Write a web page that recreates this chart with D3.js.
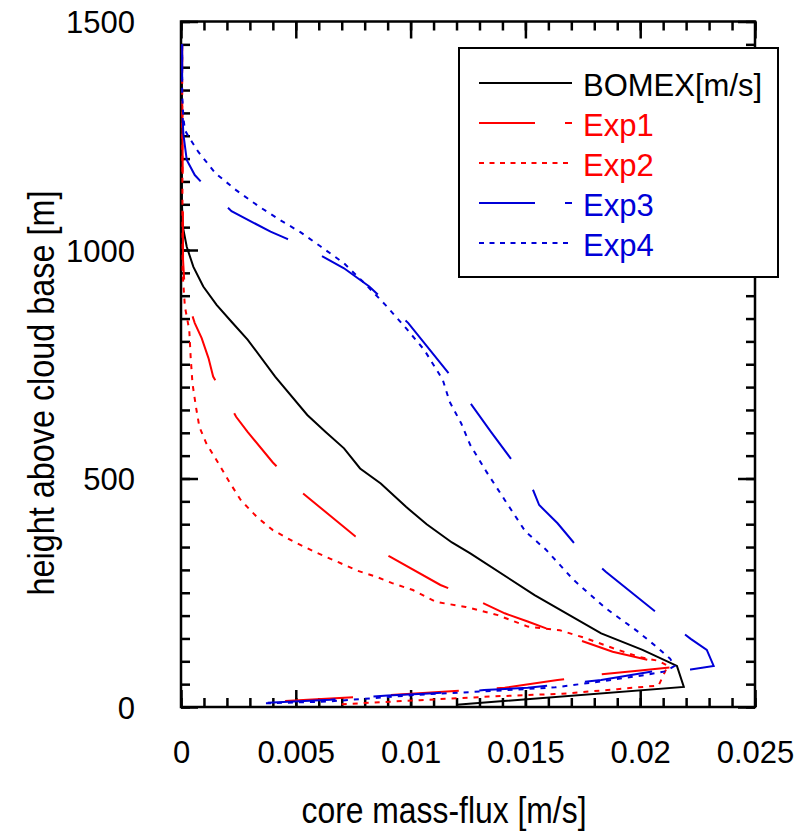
<!DOCTYPE html>
<html>
<head>
<meta charset="utf-8">
<script src="https://cdn.jsdelivr.net/npm/d3@7"></script>
<style>
body { margin: 0; background: #fff; }
text { font-family: "Liberation Sans", Arial, sans-serif; }
</style>
</head>
<body>
<script>
// core mass-flux [m/s] vs height above cloud base [m]
var bomexFlux = [0.0120, 0.0219, 0.0216, 0.0201, 0.0183, 0.0154, 0.0126, 0.0118, 0.0107, 0.0098, 0.0087, 0.0078, 0.0071, 0.0063, 0.0055, 0.0041, 0.0029, 0.0022, 0.00155, 0.00097, 0.00054, 0.00025, 0.00008, 0.00004, 0.00004];
var bomexZ    = [5, 44, 90, 125, 161, 245, 336, 360, 400, 438, 489, 522, 566, 602, 639, 723, 804, 843, 880, 920, 963, 1007, 1051, 1102, 1450];

var exp1Flux = [0.0031, 0.0088, 0.0141, 0.0164, 0.0180, 0.0200, 0.0216, 0.0188, 0.0164, 0.0151, 0.0141, 0.0127, 0.0113, 0.0091, 0.0076, 0.0053, 0.0040, 0.0029, 0.0024, 0.0022, 0.0014, 0.0012, 0.0009, 0.0006, 0.00017, 0.00009, 0.00005];
var exp1Z    = [9, 25, 42, 59, 70, 80, 88, 121, 163, 187, 205, 238, 267, 329, 373, 468, 535, 602, 635, 654, 723, 763, 807, 840, 906, 978, 1450];

var exp2Flux = [0.0070, 0.0104, 0.0135, 0.0166, 0.0190, 0.0208, 0.0212, 0.0208, 0.0200, 0.0188, 0.0176, 0.0165, 0.0151, 0.0138, 0.0124, 0.0111, 0.0101, 0.0092, 0.0085, 0.0077, 0.0068, 0.0058, 0.0049, 0.0040, 0.0033, 0.0026, 0.0021, 0.00155, 0.0011, 0.0008, 0.00065, 0.0005, 0.00042, 0.00036, 0.00017, 0.00007, 0.00005];
var exp2Z    = [6, 15, 23, 29, 39, 47, 90, 101, 109, 129, 151, 168, 176, 201, 219, 230, 256, 271, 285, 298, 318, 340, 362, 387, 416, 453, 493, 540, 577, 613, 657, 708, 766, 825, 876, 950, 1450];

var exp3Flux = [0.0036, 0.0065, 0.0090, 0.0110, 0.0132, 0.0151, 0.0183, 0.0207, 0.0222, 0.0232, 0.0229, 0.0222, 0.0206, 0.0185, 0.0171, 0.0164, 0.0156, 0.0153, 0.0143, 0.0135, 0.0126, 0.0116, 0.0099, 0.0082, 0.0071, 0.0059, 0.0046, 0.0039, 0.0022, 0.00097, 0.0006, 0.00025, 0.0001, 0.00005, 0.00005];
var exp3Z    = [9, 16, 25, 30, 37, 42, 59, 79, 82, 90, 125, 149, 211, 296, 360, 402, 442, 479, 548, 602, 665, 734, 840, 920, 960, 993, 1025, 1040, 1085, 1144, 1164, 1197, 1255, 1320, 1450];

var exp4Flux = [0.0037, 0.0064, 0.0104, 0.0135, 0.0163, 0.0183, 0.0202, 0.0211, 0.0215, 0.0213, 0.0208, 0.0199, 0.0185, 0.0171, 0.0159, 0.0150, 0.0141, 0.0133, 0.0126, 0.0122, 0.0117, 0.0114, 0.0106, 0.0098, 0.0089, 0.0080, 0.0071, 0.0061, 0.0052, 0.0043, 0.0034, 0.0024, 0.0015, 0.00075, 0.00042, 0.00017, 0.0001, 0.00005, 0.00005];
var exp4Z    = [8, 12, 27, 35, 43, 56, 70, 78, 90, 106, 128, 165, 216, 278, 344, 384, 453, 515, 573, 621, 668, 716, 781, 829, 880, 927, 971, 1007, 1039, 1066, 1095, 1131, 1168, 1215, 1241, 1262, 1292, 1342, 1450];

var seriesNames = ["BOMEX[m/s]", "Exp1", "Exp2", "Exp3", "Exp4"];
var seriesFlux = [bomexFlux, exp1Flux, exp2Flux, exp3Flux, exp4Flux];
var seriesZ = [bomexZ, exp1Z, exp2Z, exp3Z, exp4Z];

var xTickValues = [0, 0.005, 0.01, 0.015, 0.02, 0.025];
var xTickLabels = ["0", "0.005", "0.01", "0.015", "0.02", "0.025"];
var yTickValues = [0, 500, 1000, 1500];
var yTickLabels = ["0", "500", "1000", "1500"];

var colors = ["#000000", "#ff0000", "#ff0000", "#0000d8", "#0000d8"];
var dashes = [null, [68, 38], [5, 6], [68, 38], [5, 6]];
var legendDashes = [null, "56,30", "5,5.5", "56,30", "5,5.5"];
// a dash of the long-dash lines starts at this point (flux, height)
var dashStart = [null, [0.0076, 373], null, [0.0145, 548], null];

var width = 795, height = 836;
var plotLeft = 181, plotRight = 755, plotTop = 21.5, plotBottom = 707;

var svg = d3.select("body").append("svg")
    .attr("width", width)
    .attr("height", height);

svg.append("rect")
    .attr("width", width)
    .attr("height", height)
    .attr("fill", "#fff");

var x = d3.scaleLinear().domain([0, 0.025]).range([plotLeft, plotRight]);
var y = d3.scaleLinear().domain([0, 1500]).range([plotBottom, plotTop]);

var minorX = d3.range(0, 26).map(function(i) { return i * 0.001; });
var minorY = d3.range(0, 31).map(function(i) { return i * 50; });

function noDomain(g) {
    g.select(".domain").remove();
    g.selectAll(".tick line").attr("stroke", "#000").attr("stroke-width", 2.5);
}

// minor ticks on all four sides, pointing inwards
svg.append("g").attr("transform", "translate(0," + plotBottom + ")")
    .call(d3.axisBottom(x).tickValues(minorX).tickSize(-9).tickFormat("")).call(noDomain);
svg.append("g").attr("transform", "translate(0," + plotTop + ")")
    .call(d3.axisTop(x).tickValues(minorX).tickSize(-9).tickFormat("")).call(noDomain);
svg.append("g").attr("transform", "translate(" + plotLeft + ",0)")
    .call(d3.axisLeft(y).tickValues(minorY).tickSize(-9).tickFormat("")).call(noDomain);
svg.append("g").attr("transform", "translate(" + plotRight + ",0)")
    .call(d3.axisRight(y).tickValues(minorY).tickSize(-9).tickFormat("")).call(noDomain);

// major ticks
var xb = svg.append("g").attr("transform", "translate(0," + plotBottom + ")")
    .call(d3.axisBottom(x).tickValues(xTickValues).tickSize(-17).tickPadding(34)
        .tickFormat(function(d, i) { return xTickLabels[i]; }))
    .call(noDomain);
svg.append("g").attr("transform", "translate(0," + plotTop + ")")
    .call(d3.axisTop(x).tickValues(xTickValues).tickSize(-17).tickFormat("")).call(noDomain);
var yl = svg.append("g").attr("transform", "translate(" + plotLeft + ",0)")
    .call(d3.axisLeft(y).tickValues(yTickValues).tickSize(-17).tickPadding(46)
        .tickFormat(function(d, i) { return yTickLabels[i]; }))
    .call(noDomain);
svg.append("g").attr("transform", "translate(" + plotRight + ",0)")
    .call(d3.axisRight(y).tickValues(yTickValues).tickSize(-17).tickFormat("")).call(noDomain);

xb.selectAll("text").attr("font-size", 31).attr("fill", "#000")
    .attr("font-family", "'Liberation Sans', Arial, sans-serif");
yl.selectAll("text").attr("font-size", 31).attr("fill", "#000").attr("dy", "0.37em")
    .attr("font-family", "'Liberation Sans', Arial, sans-serif");

// frame
svg.append("rect")
    .attr("x", plotLeft).attr("y", plotTop)
    .attr("width", plotRight - plotLeft).attr("height", plotBottom - plotTop)
    .attr("fill", "none").attr("stroke", "#000").attr("stroke-width", 2.5);

// profiles
var line = d3.line()
    .x(function(d) { return x(d[0]); })
    .y(function(d) { return y(d[1]); });

// length along the path of the point closest to (px, py)
function lengthAt(node, px, py) {
    var total = node.getTotalLength(), best = 0, bestD = Infinity;
    for (var s = 0; s <= total; s += 0.5) {
        var p = node.getPointAtLength(s);
        var d = (p.x - px) * (p.x - px) + (p.y - py) * (p.y - py);
        if (d < bestD) { bestD = d; best = s; }
    }
    return best;
}

seriesNames.forEach(function(name, i) {
    var pts = seriesFlux[i].map(function(v, j) { return [v, seriesZ[i][j]]; });
    var p = svg.append("path")
        .datum(pts)
        .attr("fill", "none")
        .attr("stroke", colors[i])
        .attr("stroke-width", 2)
        .attr("d", line);
    if (dashes[i]) {
        p.attr("stroke-dasharray", dashes[i].join(","));
        if (dashStart[i]) {
            var period = dashes[i][0] + dashes[i][1];
            var L = lengthAt(p.node(), x(dashStart[i][0]), y(dashStart[i][1]));
            p.attr("stroke-dashoffset", period - (L % period));
        }
    }
});

// axis titles
svg.append("text")
    .attr("x", 444).attr("y", 823)
    .attr("text-anchor", "middle")
    .attr("font-size", 37)
    .attr("textLength", 285)
    .attr("lengthAdjust", "spacingAndGlyphs")
    .text("core mass-flux [m/s]");

svg.append("text")
    .attr("transform", "translate(54,393) rotate(-90)")
    .attr("text-anchor", "middle")
    .attr("font-size", 37)
    .attr("textLength", 405)
    .attr("lengthAdjust", "spacingAndGlyphs")
    .text("height above cloud base [m]");

// legend
var legend = svg.append("g");
legend.append("rect")
    .attr("x", 459).attr("y", 48)
    .attr("width", 319).attr("height", 229)
    .attr("fill", "#fff").attr("stroke", "#000").attr("stroke-width", 2);

seriesNames.forEach(function(name, i) {
    var ry = 83 + i * 40;
    legend.append("line")
        .attr("x1", 479).attr("x2", 572)
        .attr("y1", ry).attr("y2", ry)
        .attr("stroke", colors[i])
        .attr("stroke-width", 2)
        .attr("stroke-dasharray", legendDashes[i]);
    legend.append("text")
        .attr("x", 583).attr("y", ry + 13)
        .attr("font-size", 31)
        .attr("fill", colors[i])
        .text(name);
});
</script>
</body>
</html>
